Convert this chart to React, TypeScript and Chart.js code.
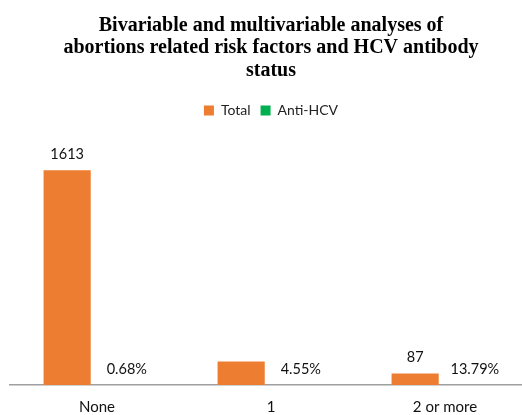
import React, { useEffect, useRef } from "react";
import { Chart, registerables } from "chart.js";

Chart.register(...registerables);

const categories = ["None", "1", "2 or more"];
const totalValues = [1613, 176, 87];
const totalLabels = ["1613", "", "87"];
const antiHcvPct = [0.68, 4.55, 13.79];
const titleLines = [
  "Bivariable and multivariable analyses of",
  "abortions related risk factors and HCV antibody",
  "status",
];

const ORANGE = "#ED7D31";
const GREEN = "#00B050";

const labelPlugin = {
  id: "barLabels",
  afterDatasetsDraw(chart: any) {
    const ctx = chart.ctx;
    ctx.save();
    ctx.font = "14.5px Lato";
    ctx.fillStyle = "#111";
    ctx.textAlign = "center";
    ctx.textBaseline = "middle";
    chart.data.datasets.forEach((ds: any, di: number) => {
      const meta = chart.getDatasetMeta(di);
      meta.data.forEach((bar: any, i: number) => {
        const text = di === 0 ? totalLabels[i] : antiHcvPct[i].toFixed(2) + "%";
        if (!text) return;
        ctx.fillText(text, bar.x, bar.y - 16);
      });
    });
    ctx.restore();
  },
};

export default function App() {
  const ref = useRef<HTMLCanvasElement>(null);
  useEffect(() => {
    if (!ref.current) return;
    const chart = new Chart(ref.current, {
      type: "bar",
      data: {
        labels: categories,
        datasets: [
          {
            label: "Total",
            data: totalValues,
            backgroundColor: ORANGE,
            categoryPercentage: 0.686,
            barPercentage: 0.79,
          },
          {
            label: "Anti-HCV",
            data: antiHcvPct.map((p) => p / 100),
            backgroundColor: GREEN,
            categoryPercentage: 0.686,
            barPercentage: 0.79,
          },
        ],
      },
      options: {
        responsive: false,
        animation: false,
        devicePixelRatio: 1,
        layout: { padding: { left: 10, right: 8, top: 0, bottom: 0 } },
        plugins: {
          title: {
            display: true,
            text: titleLines,
            color: "#000",
            font: { family: "Liberation Serif", size: 20, weight: "bold", lineHeight: 1.14 },
            padding: { top: 14, bottom: 11 },
          },
          legend: {
            display: true,
            labels: {
              boxWidth: 10,
              boxHeight: 10,
              color: "#222",
              font: { family: "Lato", size: 14 },
              padding: 10,
            },
          },
          tooltip: { enabled: false },
        },
        scales: {
          x: {
            grid: { display: false, drawTicks: false },
            border: { display: true, color: "#A0A0A0", width: 1.5 },
            ticks: { color: "#111", font: { family: "Lato", size: 15 }, padding: 13 },
            afterFit: (scale: any) => {
              scale.height = 30;
            },
          },
          y: {
            display: false,
            min: 0,
            max: 1935,
          },
        },
      },
      plugins: [labelPlugin],
    });
    return () => chart.destroy();
  }, []);
  return (
    <div style={{ position: "fixed", left: 0, top: 0, width: 522, height: 415, overflow: "hidden", background: "#fff" }}>
      <canvas ref={ref} width={540} height={415} style={{ display: "block" }} />
    </div>
  );
}
